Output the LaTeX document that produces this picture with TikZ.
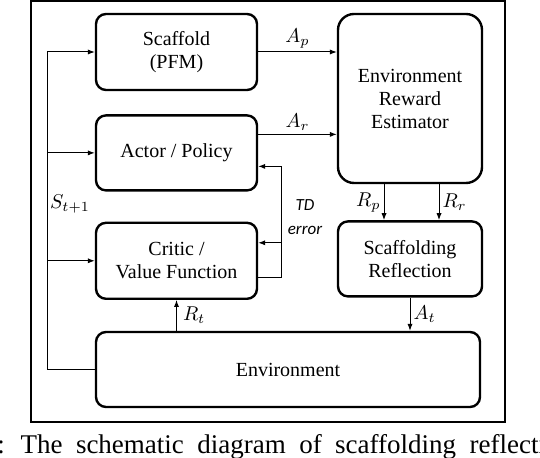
\documentclass[tikz,border=0pt]{standalone}
\usepackage{fontspec}
\setmainfont{Liberation Serif}
\newfontfamily\tdfont{Carlito}
\usetikzlibrary{arrows.meta, positioning}

\begin{document}
\begin{tikzpicture}[
  x=1pt, y=-1pt,
  block/.style={draw, line width=1.2pt, rounded corners=5pt, align=center, inner sep=0pt,
    font=\fontsize{10}{11.5}\selectfont},
  lbl/.style={inner sep=1.5pt, font=\fontsize{10}{12}\selectfont},
  tdlbl/.style={align=center, inner sep=0pt, font=\tdfont\itshape\fontsize{8.5}{12}\selectfont},
  ->, >={Latex[length=3.5pt, width=2.6pt]}, line width=0.5pt
]
\useasboundingbox (0,0) rectangle (270,229);

% Outer frame
\draw[-, line width=1.1pt] (15.5,0.5) rectangle (252.5,211);

% Left column
\node[block, minimum width=80.5pt, minimum height=38pt] (scaffold) at (88.25,26) {Scaffold\\(PFM)};
\node[block, minimum width=80.5pt, minimum height=37.5pt, below=11.5pt of scaffold] (actor) {Actor / Policy};
\node[block, minimum width=80.5pt, minimum height=38pt, below=15pt of actor] (critic) {Critic /\\Value Function};
\node[block, minimum width=192pt, minimum height=37.5pt] (env) at (144,184.75) {Environment};

% Right column
\node[block, rounded corners=8pt, minimum width=72pt, minimum height=84.5pt] (ere) at (205,49.25) {Environment\\Reward\\Estimator};
\node[block, minimum width=72pt, minimum height=37.5pt, below=18pt of ere] (refl) {Scaffolding\\Reflection};

% State feedback
\coordinate (stop) at (23.5,26);
\coordinate (sbot) at (23.5,184.75);
\draw[-] (env.west) -- (sbot) -- (stop);
\draw (stop) -- (scaffold.west);
\draw (sbot |- actor.west) -- (actor.west);
\draw (sbot |- critic.west) -- (critic.west);
\node[lbl] (slabel) at (35,102) {$S_{t+1}$};

% Actions
\draw (scaffold.east) -- node[lbl, above] {$A_p$} (scaffold.east -| ere.west);
\draw ([yshift=9.25pt]actor.east) -- node[lbl, above] {$A_r$} ([yshift=9.25pt]actor.east -| ere.west);

% TD error loop
\coordinate (td) at (140.5,0);
\coordinate (ctdout) at ([yshift=-8.5pt]critic.east);
\coordinate (ctdin) at ([yshift=9pt]critic.east);
\coordinate (atdin) at ([yshift=-6.75pt]actor.east);
\draw[-] (ctdout) -- (ctdout -| td) -- (atdin -| td);
\draw (atdin -| td) -- (atdin);
\draw (ctdin -| td) -- (ctdin);
\node[tdlbl] (tdtext) at (152.5,108.5) {TD\\error};

% Rewards
\draw ([xshift=-13pt]ere.south) -- node[lbl, left] {$R_p$} ([xshift=-13pt]refl.north);
\draw ([xshift=14.5pt]ere.south) -- node[lbl, right] {$R_r$} ([xshift=14.5pt]refl.north);
\draw (refl.south) -- node[lbl, right] {$A_t$} (refl.south |- env.north);
\draw (critic.south |- env.north) -- node[lbl, right, xshift=1.5pt] {$R_t$} (critic.south);

% Caption
\begin{scope}
\clip (0,0) rectangle (270,229);
\node[anchor=base west, inner sep=0pt, font=\fontsize{13.5}{15}\selectfont] (caption) at (-6,226.5)
  {\spaceskip=6.7pt r: The schematic diagram of scaffolding reflection};
\end{scope}
\end{tikzpicture}
\end{document}
